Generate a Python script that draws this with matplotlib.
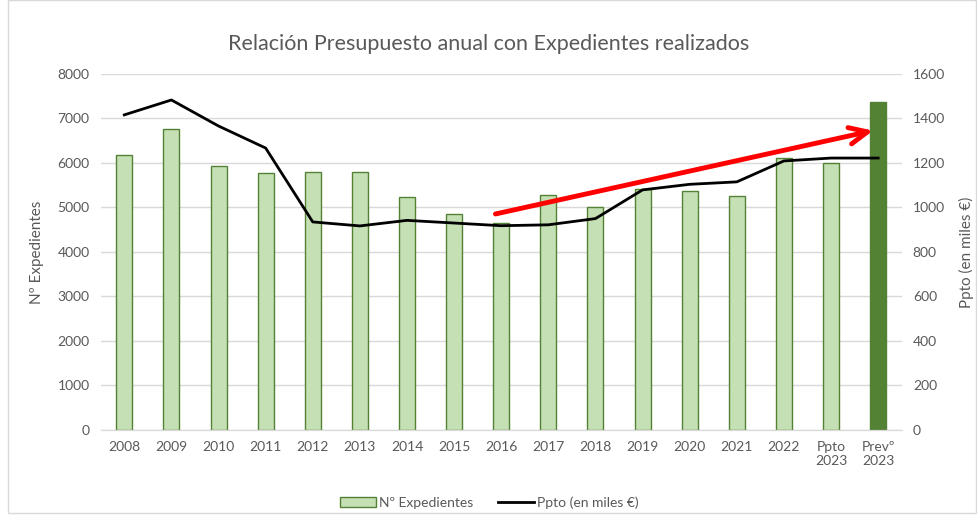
import matplotlib
matplotlib.use('Agg')
import matplotlib.pyplot as plt
from matplotlib.patches import Patch, Rectangle
from matplotlib.lines import Line2D

plt.rcParams['font.family'] = ['Lato', 'DejaVu Sans']

labels = ['2008', '2009', '2010', '2011', '2012', '2013', '2014', '2015', '2016',
          '2017', '2018', '2019', '2020', '2021', '2022', 'Ppto\n2023', 'Prevº\n2023']
expedientes = [6170, 6770, 5930, 5780, 5800, 5800, 5240, 4860, 4660,
               5290, 5010, 5420, 5380, 5260, 6110, 6000, 7370]
ppto = [1416, 1483, 1366, 1267, 935, 917, 942, 930, 918,
        922, 950, 1079, 1104, 1115, 1209, 1222, 1222]
arrow_start = (7.82, 4840)
arrow_end = (15.95, 6740)

grey = '#595959'
fig = plt.figure(figsize=(9.78, 5.16), dpi=100)
ax = fig.add_axes([0.103, 0.1667, 0.819, 0.690])
ax2 = ax.twinx()

x = list(range(len(labels)))
fills = ['#C5E0B4'] * (len(labels) - 1) + ['#548235']
ax.bar(x, expedientes, width=0.34, color=fills, edgecolor='#548235', linewidth=1, zorder=2)
ax2.plot(x, ppto, color='black', linewidth=2, zorder=3)

ax.set_ylim(0, 8000)
ax2.set_ylim(0, 1600)
ax.set_xlim(-0.5, len(labels) - 0.5)
ax.set_yticks(range(0, 8001, 1000))
ax2.set_yticks(range(0, 1601, 200))
ax.set_xticks(x)
ax.set_xticklabels(labels)
ax.grid(axis='y', color='#d9d9d9', linewidth=1, zorder=0)
ax.set_axisbelow(True)

for a in (ax, ax2):
    for s in ['top', 'left', 'right']:
        a.spines[s].set_visible(False)
    a.spines['bottom'].set_color('#d9d9d9')
    a.tick_params(length=0, labelsize=10, labelcolor=grey, pad=8)

ax.set_ylabel('Nº Expedientes', fontsize=11, color=grey, labelpad=10)
ax2.set_ylabel('Ppto (en miles €)', fontsize=11, color=grey, labelpad=10)
fig.suptitle('Relación Presupuesto anual con Expedientes realizados',
             fontsize=15.5, color=grey, y=0.935)

ax2.annotate('', xy=arrow_end, xytext=arrow_start, xycoords=ax.transData,
             textcoords=ax.transData,
             arrowprops=dict(arrowstyle='->,head_length=1.3,head_width=0.6',
                             color='red', linewidth=3.5), zorder=5)

handles = [Patch(facecolor='#C5E0B4', edgecolor='#548235', label='Nº Expedientes'),
           Line2D([0], [0], color='black', linewidth=2, label='Ppto (en miles €)')]
fig.legend(handles=handles, loc='lower center', ncol=2, frameon=False,
           fontsize=10, labelcolor=grey, bbox_to_anchor=(0.5, -0.01),
           columnspacing=1.8, handlelength=2.6, handletextpad=0.2)

fig.patches.append(Rectangle((0.008, 0.005), 0.99, 0.995, transform=fig.transFigure,
                             fill=False, edgecolor='#d9d9d9', linewidth=1))

fig.savefig('out.png', dpi=100)
